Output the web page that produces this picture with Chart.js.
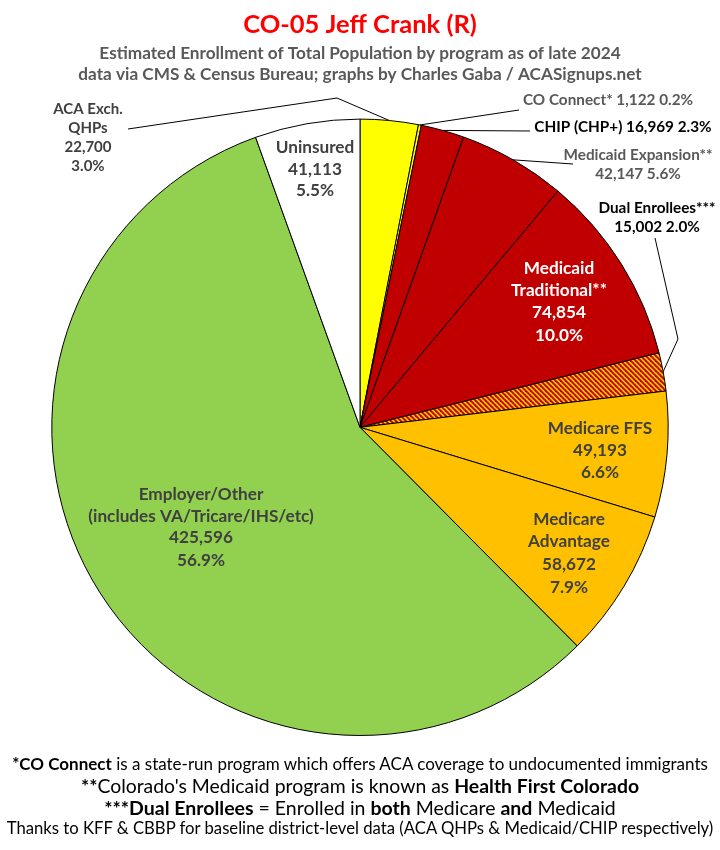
<!DOCTYPE html>
<html>
<head>
<meta charset="utf-8">
<script src="https://cdn.jsdelivr.net/npm/chart.js@4/dist/chart.umd.min.js"></script>
<style>
    html, body { margin: 0; padding: 0; background: #fff; }
    #wrap { position: relative; width: 720px; height: 850px; overflow: hidden; }
    #notes { position: absolute; left: 0; top: 751px; width: 720px; text-align: center; color: #000; font-family: Lato, sans-serif; white-space: nowrap; }
    #notes div { position: absolute; left: 0; width: 720px; }
</style>
</head>
<body>
<div id="wrap">
    <canvas id="pie" width="720" height="850"></canvas>
    <div id="notes">
        <div style="top:2px;font-size:17px;line-height:22px"><b>*CO Connect</b> is a state-run program which offers ACA coverage to undocumented immigrants</div>
        <div style="top:23px;font-size:19.4px;line-height:24px"><b>**</b>Colorado's Medicaid program is known as <b>Health First Colorado</b></div>
        <div style="top:45px;font-size:19.5px;line-height:24px"><b>***Dual Enrollees</b> = Enrolled in <b>both</b> Medicare <b>and</b> Medicaid</div>
        <div style="top:66px;font-size:16.7px;line-height:22px">Thanks to KFF &amp; CBBP for baseline district-level data (ACA QHPs &amp; Medicaid/CHIP respectively)</div>
    </div>
</div>
<script>
// Clockwise from 12 o'clock
const categories = ['ACA Exch. QHPs', 'CO Connect*', 'CHIP (CHP+)', 'Medicaid Expansion**', 'Medicaid Traditional**',
    'Dual Enrollees***', 'Medicare FFS', 'Medicare Advantage', 'Employer/Other (includes VA/Tricare/IHS/etc)', 'Uninsured'];
const enrollment = [22700, 1122, 16969, 42147, 74854, 15002, 49193, 58672, 425596, 41113];
const titleText = 'CO-05 Jeff Crank (R)';
const subtitleLines = ['Estimated Enrollment of Total Population by program as of late 2024',
    'data via CMS & Census Bureau; graphs by Charles Gaba / ACASignups.net'];

const RED = '#C00000';
const GOLD = '#FFC000';
const DARK = '#404040';
const GREY = '#595959';

// red & gold diagonal stripes for the dual enrollees slice
function stripes() {
    const c = document.createElement('canvas');
    c.width = 5;
    c.height = 5;
    const p = c.getContext('2d');
    p.fillStyle = GOLD;
    p.fillRect(0, 0, 5, 5);
    p.strokeStyle = RED;
    p.lineWidth = 1.8;
    [-5, 0, 5].forEach(o => {
        p.beginPath();
        p.moveTo(o - 1, -1);
        p.lineTo(o + 6, 6);
        p.stroke();
    });
    return p.createPattern(c, 'repeat');
}

const sliceColors = ['#FFFF00', '#FFFF00', RED, RED, RED, stripes(), GOLD, GOLD, '#92D050', '#FFFFFF'];

const total = enrollment.reduce((a, b) => a + b, 0);
const num = i => enrollment[i].toLocaleString('en-US');
const pct = i => (enrollment[i] / total * 100).toFixed(1) + '%';

// Label placement for each slice: centre x, line y's, size, colour
const labelSpots = [
    { lines: ['ACA Exch.', 'QHPs', num(0), pct(0)], x: 88, y: [109, 128, 147, 166], size: 15, color: DARK },
    { lines: ['CO Connect* ' + num(1) + ' ' + pct(1)], x: 608, y: [100], size: 15.3, color: GREY },
    { lines: ['CHIP (CHP+) ' + num(2) + ' ' + pct(2)], x: 623, y: [127], size: 15.3, color: '#000' },
    { lines: ['Medicaid Expansion**', num(3) + ' ' + pct(3)], x: 638, y: [155, 174], size: 15.3, color: GREY },
    { lines: ['Medicaid', 'Traditional**', num(4), pct(4)], x: 559, y: [268, 290, 312, 335], size: 17.2, color: '#fff' },
    { lines: ['Dual Enrollees***', num(5) + ' ' + pct(5)], x: 657, y: [208, 227], size: 15.3, color: '#000' },
    { lines: ['Medicare FFS', num(6), pct(6)], x: 600, y: [428, 450, 472], size: 17.2, color: DARK },
    { lines: ['Medicare', 'Advantage', num(7), pct(7)], x: 569, y: [519, 541, 564, 587], size: 17.2, color: DARK },
    { lines: ['Employer/Other', '(includes VA/Tricare/IHS/etc)', num(8), pct(8)], x: 201, y: [494, 516, 537, 560], size: 17.2, color: DARK },
    { lines: ['Uninsured', num(9), pct(9)], x: 315, y: [147, 169, 190], size: 17.2, color: DARK },
];

// Leader lines run from the label to the middle of the slice's outer edge
const leaders = [
    { slice: 0, from: [[128, 129], [337, 98]] },
    { slice: 1, from: [[519, 110]] },
    { slice: 2, from: [[530, 131]] },
    { slice: 3, from: [[573, 164]] },
    { slice: 5, from: [[655, 238], [678, 339]] },
];

const sliceLabels = {
    id: 'sliceLabels',
    afterDatasetsDraw(chart) {
        const { ctx } = chart;
        const arcs = chart.getDatasetMeta(0).data;
        ctx.save();

        ctx.strokeStyle = '#000';
        ctx.lineWidth = 1;
        leaders.forEach(l => {
            const arc = arcs[l.slice];
            const mid = (arc.startAngle + arc.endAngle) / 2;
            ctx.beginPath();
            l.from.forEach((pt, i) => i ? ctx.lineTo(pt[0], pt[1]) : ctx.moveTo(pt[0], pt[1]));
            ctx.lineTo(arc.x + Math.cos(mid) * arc.outerRadius, arc.y + Math.sin(mid) * arc.outerRadius);
            ctx.stroke();
        });

        ctx.textAlign = 'center';
        ctx.textBaseline = 'middle';
        labelSpots.forEach(s => {
            ctx.font = `bold ${s.size}px Lato`;
            ctx.fillStyle = s.color;
            s.lines.forEach((t, i) => ctx.fillText(t, s.x, s.y[i]));
        });
        ctx.restore();
    }
};

new Chart(document.getElementById('pie'), {
    type: 'pie',
    data: {
        labels: categories,
        datasets: [{
            data: enrollment,
            backgroundColor: sliceColors,
            borderColor: '#000',
            borderWidth: 1,
        }]
    },
    options: {
        responsive: false,
        animation: false,
        layout: { padding: { left: 51, right: 51, bottom: 114 } },
        plugins: {
            legend: { display: false },
            tooltip: { enabled: false },
            title: {
                display: true,
                text: titleText,
                color: '#FF0000',
                font: { family: 'Lato', size: 25.5, weight: 'bold', lineHeight: 1.2 },
                padding: { top: 9, bottom: 3 },
            },
            subtitle: {
                display: true,
                text: subtitleLines,
                color: GREY,
                font: { family: 'Lato', size: 17.2, weight: 'bold', lineHeight: 1.25 },
                padding: { top: 0, bottom: 33 },
            },
        },
    },
    plugins: [sliceLabels],
});
</script>
</body>
</html>
